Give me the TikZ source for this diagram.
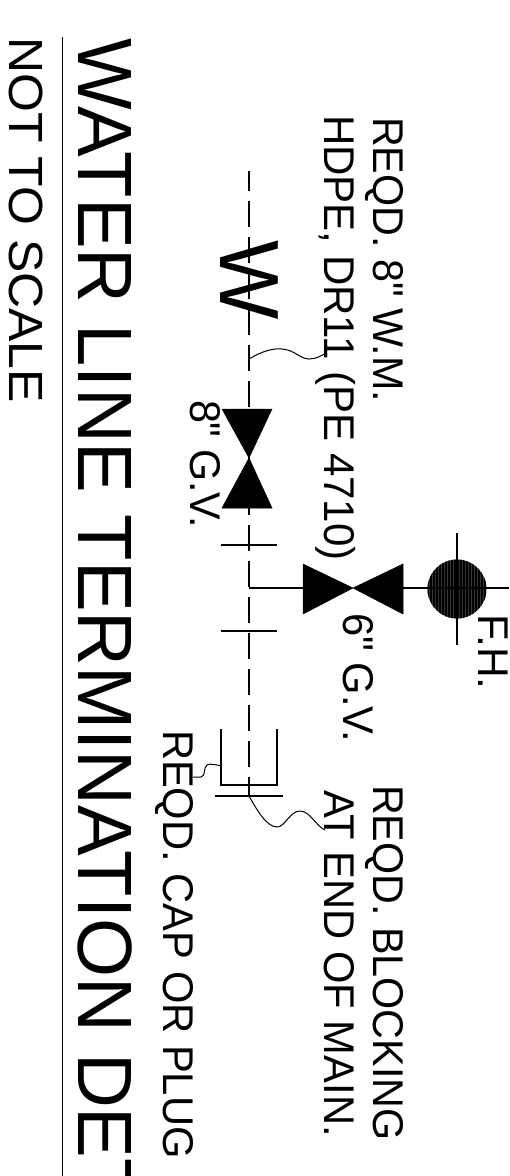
\documentclass[tikz,border=0pt]{standalone}
\usepackage{fontspec}
\usepackage{graphicx}
\newfontfamily\lib{Liberation Sans}
\newcommand{\sx}[2]{\scalebox{#1}[1]{#2}}
\tikzset{
 lbl/.style={rotate=-90,anchor=base west,inner sep=0pt,outer sep=0pt,font=\lib\fontsize{43}{43}\selectfont},
 ttl/.style={rotate=-90,anchor=base west,inner sep=0pt,outer sep=0pt,font=\lib\fontsize{77}{77}\selectfont},
 pipe/.style={line width=1.4pt,black},
 leader/.style={line width=1pt,black},
 main/.style={pipe,dash pattern=on 25.5pt off 10.5pt},
 valveshape/.style={fill=black,draw=black,line width=.5pt,line join=miter},
}
\begin{document}
\begin{tikzpicture}[x=1pt,y=-1pt]
\useasboundingbox (0,0) rectangle (509,1176);
\clip (0,0) rectangle (509,1176);
% main
\coordinate (mtop) at (249,165);
\coordinate (mv1) at (249,458);
\coordinate (mbr) at (249,588);
\coordinate (mend) at (249,796);
\begin{scope}
\clip (200,171) rectangle (300,797);
\draw[main] (mtop) -- (mend);
\end{scope}
% W
\node[lbl,font=\lib\fontsize{84}{84}\selectfont] (wm) at (220,240) {W};
% 8in valve
\filldraw[valveshape] (222,409) -- (272,409) -- (mv1) -- (272,508) -- (222,508) -- (mv1) -- cycle;
% ticks
\coordinate (t1a) at (221,545); \coordinate (t1b) at (277,545);
\coordinate (t2a) at (221,631); \coordinate (t2b) at (277,631);
\draw[pipe] (t1a) -- (t1b);
\draw[pipe] (t2a) -- (t2b);
% branch
\coordinate (v6c) at (353,588);
\coordinate (fhc) at (457,589);
\coordinate (rend) at (509,588);
\draw[pipe] (mbr) -- (303,588);
\filldraw[valveshape] (303,564) -- (v6c) -- (403,564) -- (403,614) -- (v6c) -- (303,614) -- cycle;
\draw[pipe] (403,588) -- (rend);
% hydrant
\fill[black!80] (fhc) circle (29.5);
\begin{scope}
\clip (fhc) circle (29.5);
\foreach \x in {428,431,...,488}{\draw[black,line width=1.5pt] (\x,559) -- (\x,620);}
\end{scope}
\draw[pipe] (457,533) -- (457,645);
\draw[pipe] (427,588) -- (487,588);
% cap
\draw[pipe] (221,729) -- (221,785) -- (277,785) -- (277,729);
\coordinate (pa) at (215,796); \coordinate (pb) at (283,796);
\draw[pipe] (pa) -- (pb);
% leaders
\coordinate (l1s) at (249,359); \coordinate (l1e) at (326,353);
\draw[leader] (l1s) .. controls (262,351) and (274,348) .. (282,349)
  .. controls (295,350) and (300,359) .. (309,359)
  .. controls (316,359) and (321,356) .. (l1e);
\coordinate (l2s) at (222,766); \coordinate (l2e) at (193,777);
\draw[leader] (l2s) .. controls (216,765) and (210,763) .. (207,765)
  .. controls (203,768) and (206,776) .. (201,777) -- (l2e);
\draw[leader] (mend) .. controls (256,808) and (266,827) .. (277,827)
  .. controls (285,827) and (290,811) .. (300,811)
  .. controls (310,811) and (316,826) .. (325,830);
% text
\node[lbl] (a) at (373,117) {\sx{.96}{REQD. 8" W.M.}};
\node[lbl] (b) at (324,115) {\sx{.978}{HDPE, DR11 (PE 4710)}};
\node[lbl] (c) at (190,400) {\sx{.96}{8" G.V.}};
\node[lbl] (d) at (343,613) {\sx{.97}{6" G.V.}};
\node[lbl] (e) at (478,614) {\sx{.99}{F.H.}};
\node[lbl] (f) at (373,785) {\sx{.96}{REQD. BLOCKING}};
\node[lbl] (g) at (324,790) {\sx{.97}{AT END OF MAIN.}};
\node[lbl] (h) at (163,730) {\sx{.97}{REQD. CAP OR PLUG}};
\node[ttl] (i) at (78,38) {\sx{.986}{WATER LINE TERMINATION DET}};
\node[lbl,font=\lib\fontsize{48}{48}\selectfont] (j) at (9.5,37.5) {\sx{1.04}{NOT TO SCALE}};
\coordinate (ra) at (62.7,37); \coordinate (rb) at (62.7,1176);
\draw[line width=1.5pt] (ra) -- (rb);
\end{tikzpicture}
\end{document}
